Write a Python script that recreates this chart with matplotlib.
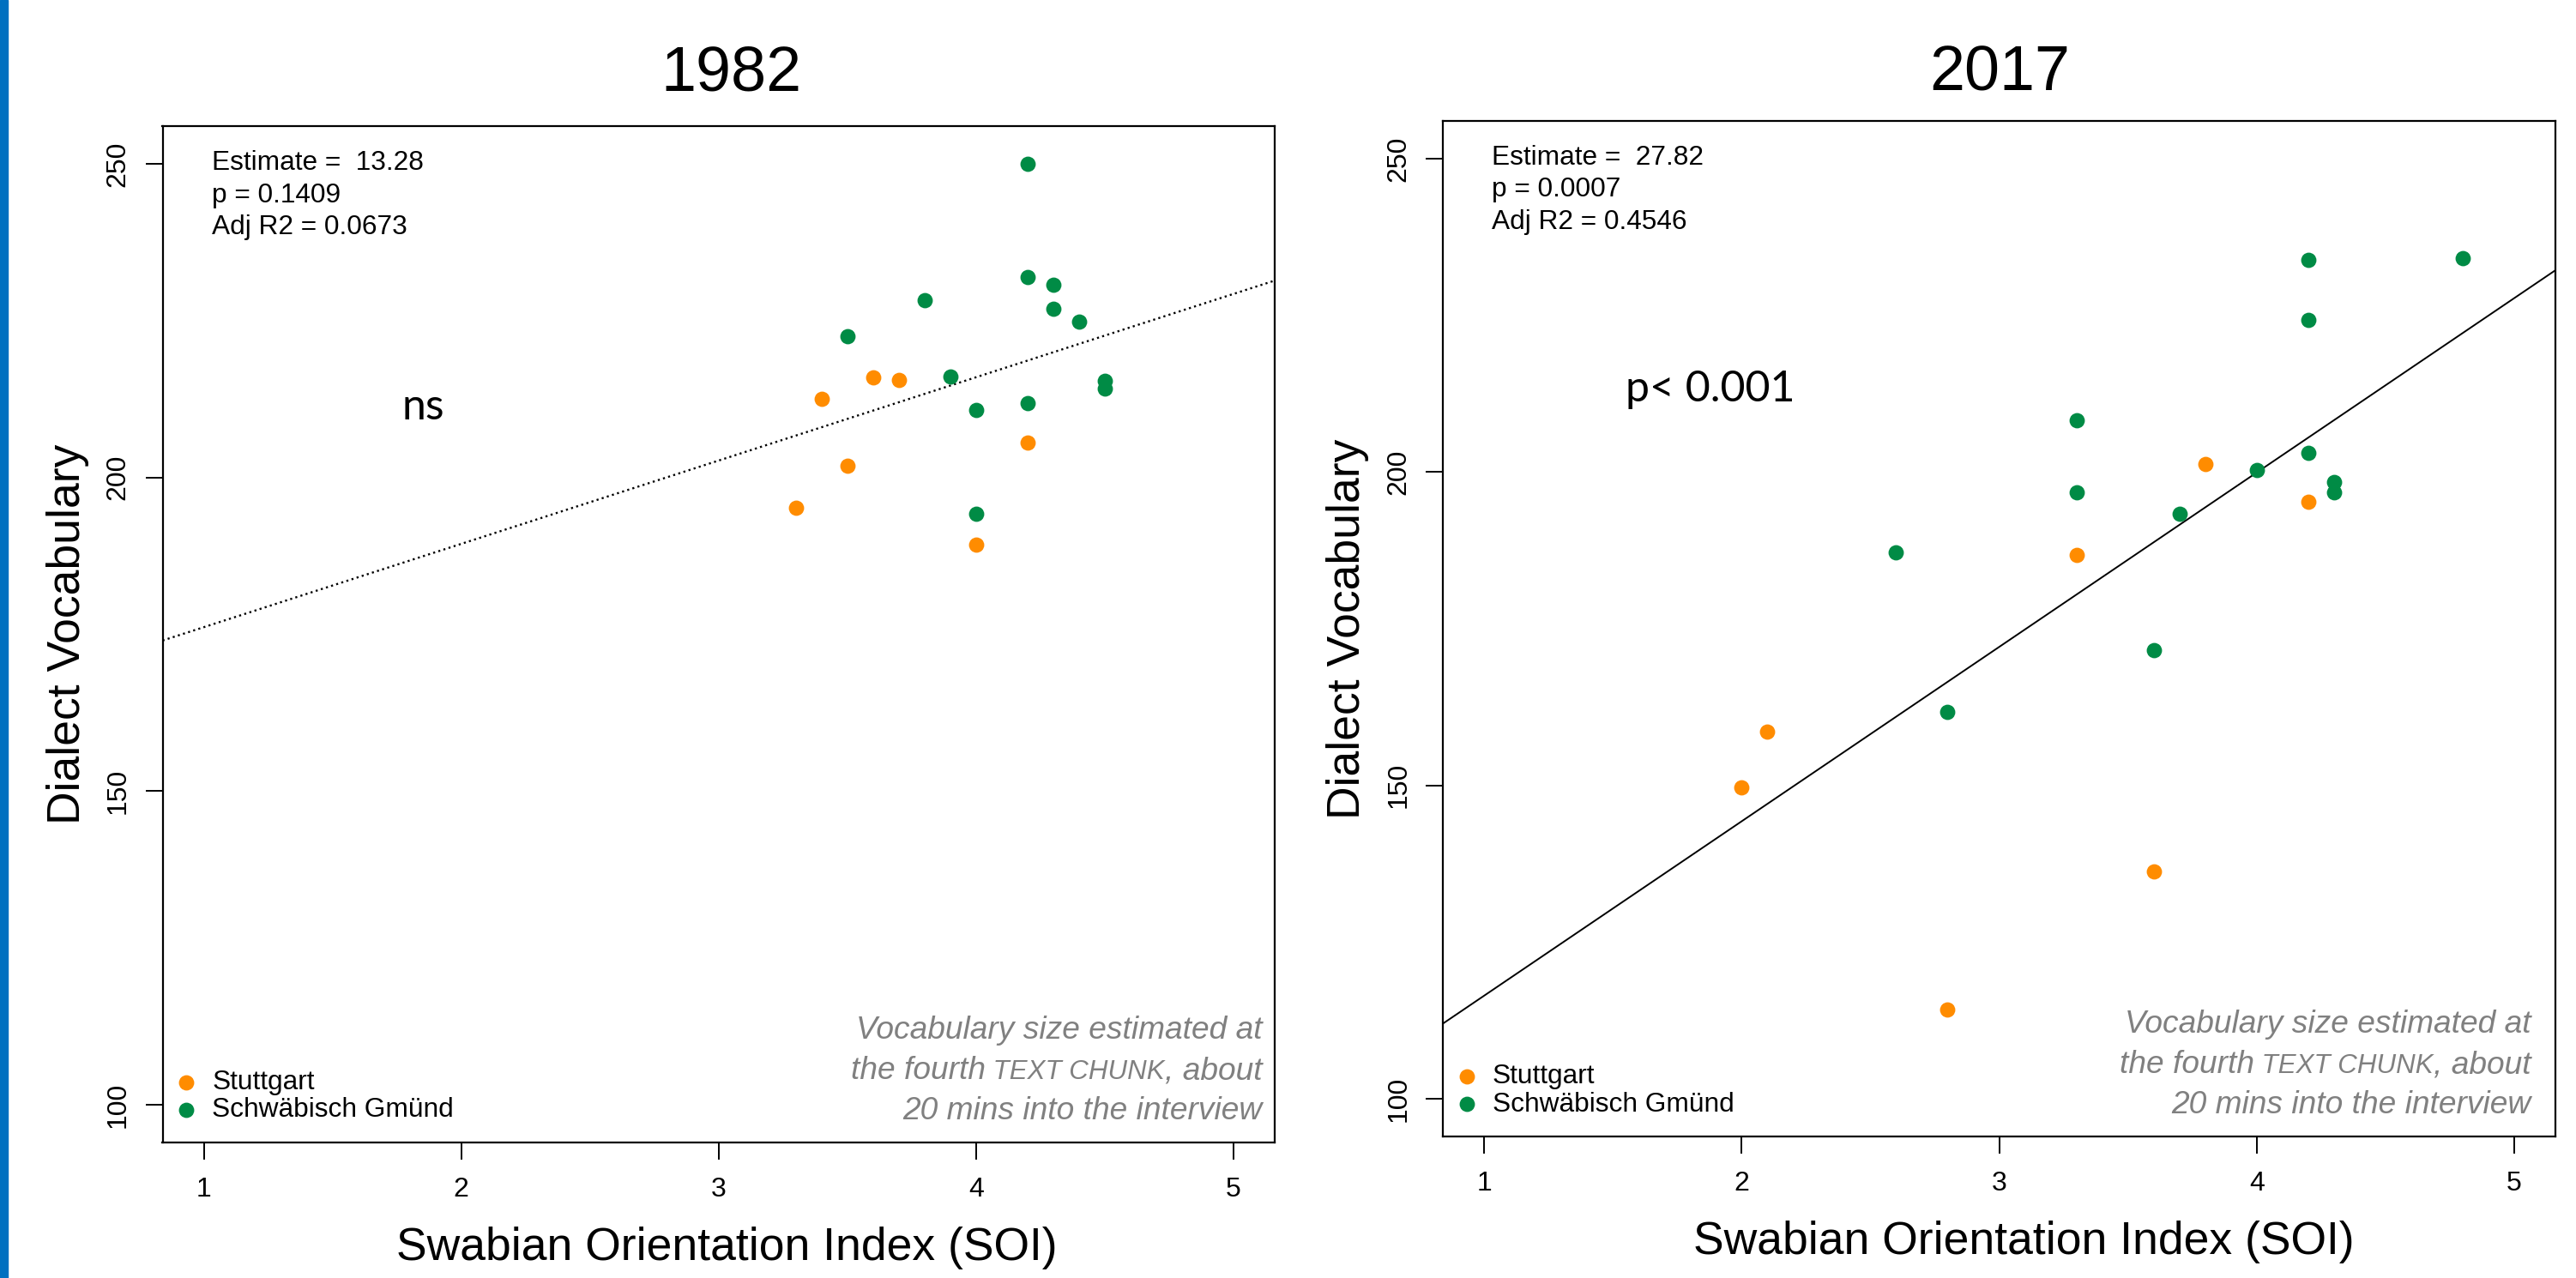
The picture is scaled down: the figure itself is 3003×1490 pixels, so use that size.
import matplotlib
matplotlib.use("Agg")
import matplotlib.pyplot as plt
from matplotlib.patches import Rectangle
from matplotlib.offsetbox import TextArea, HPacker, VPacker, AnnotationBbox

# values
soi_1982_stgt = [3.3, 3.4, 3.5, 3.6, 3.7, 4.0, 4.2]
voc_1982_stgt = [195.1, 212.5, 201.9, 216.0, 215.5, 189.3, 205.5]
soi_1982_gmd = [3.5, 3.8, 3.9, 4.0, 4.0, 4.2, 4.2, 4.2, 4.3, 4.3, 4.4, 4.5, 4.5]
voc_1982_gmd = [222.5, 228.3, 216.1, 210.8, 194.2, 250.0, 231.9, 211.9, 230.7, 226.9, 224.8, 215.4, 214.1]

soi_2017_stgt = [2.0, 2.1, 2.8, 3.3, 3.6, 3.8, 4.2]
voc_2017_stgt = [149.7, 158.6, 114.3, 186.8, 136.3, 201.3, 195.2]
soi_2017_gmd = [2.6, 2.8, 3.3, 3.3, 3.6, 3.7, 4.0, 4.2, 4.2, 4.2, 4.3, 4.3, 4.8]
voc_2017_gmd = [187.2, 161.7, 208.2, 196.8, 171.6, 193.3, 200.3, 233.9, 224.3, 203.1, 198.4, 196.7, 234.1]

# regression lines (intercept, slope)
fit_1982 = (162.85, 13.28)
fit_2017 = (88.63, 27.82)

stats_1982 = ["Estimate =  13.28", "p = 0.1409", "Adj R2 = 0.0673"]
stats_2017 = ["Estimate =  27.82", "p = 0.0007", "Adj R2 = 0.4546"]

x_ticks = [1, 2, 3, 4, 5]
y_ticks = [100, 150, 200, 250]
groups = ["Stuttgart", "Schwäbisch Gmünd"]
colors = ["#FF8C00", "#008B45"]

plt.rcParams["font.family"] = ["Liberation Sans", "DejaVu Sans"]

W, H = 3003, 1490
fig = plt.figure(figsize=(W / 100, H / 100), dpi=100)
fig.patches.append(Rectangle((0, 0), 9 / W, 1, transform=fig.transFigure,
                             color="#0070C0", zorder=0))


def add_ax(left, top, right, bottom):
    return fig.add_axes([left / W, 1 - bottom / H, (right - left) / W, (bottom - top) / H])


def draw_panel(ax, title, title_x, soi_s, voc_s, soi_g, voc_g, fit, ls, lw,
               stats, sig_text, sig_xy, xlabel_x, note_x):
    ax.scatter(soi_s, voc_s, s=165, color=colors[0], label=groups[0],
               linewidths=0, zorder=3)
    ax.scatter(soi_g, voc_g, s=165, color=colors[1], label=groups[1],
               linewidths=0, zorder=3)
    ax.axline((0, fit[0]), slope=fit[1], color="black", linestyle=ls, linewidth=lw)

    ax.set_xlim(0.84, 5.16)
    ax.set_ylim(94, 256)
    ax.set_xticks(x_ticks)
    ax.set_yticks(y_ticks)
    ax.tick_params(length=14.4, width=1.4, labelsize=23)
    ax.tick_params(axis="x", pad=14.4)
    ax.tick_params(axis="y", pad=12)
    plt.setp(ax.get_yticklabels(), rotation=90, va="center", ha="right")
    for sp in ax.spines.values():
        sp.set_linewidth(1.6)

    ax.set_xlabel("Swabian Orientation Index (SOI)", fontsize=38.5)
    ax.xaxis.set_label_coords(xlabel_x, -0.083)
    ax.set_ylabel("Dialect Vocabulary", fontsize=38.5)
    ax.yaxis.set_label_coords(-0.066, 0.5)

    fig.text(title_x / W, 1 - 106 / H, title, fontsize=53, ha="center", va="baseline")

    for i, line in enumerate(stats):
        ax.text(0.044, 0.957 - i * 0.0317, line, transform=ax.transAxes,
                fontsize=22.8, va="baseline")

    ax.text(sig_xy[0], sig_xy[1], sig_text, fontsize=36, family="Lato", va="baseline")

    ax.legend(loc="lower left", bbox_to_anchor=(0.014, 0.019), borderaxespad=0,
              borderpad=0, frameon=False, fontsize=22.8, handlelength=0.6,
              handletextpad=0.65, labelspacing=0.08, scatterpoints=1)

    tp = dict(color="#808080", style="italic", fontsize=26.7)
    tp_small = dict(color="#808080", style="italic", fontsize=22.5)
    line1 = TextArea("Vocabulary size estimated at", textprops=tp)
    line2 = HPacker(children=[TextArea("the fourth", textprops=tp),
                              TextArea(" TEXT CHUNK", textprops=tp_small),
                              TextArea(", about", textprops=tp)],
                    align="baseline", pad=0, sep=0)
    line3 = TextArea("20 mins into the interview", textprops=tp)
    note = VPacker(children=[line1, line2, line3], align="right", pad=0, sep=8.5)
    ab = AnnotationBbox(note, (note_x, 0.016), xycoords="axes fraction",
                        box_alignment=(1, 0), frameon=False, pad=0)
    ax.add_artist(ab)


ax1 = add_ax(189.5, 147, 1486, 1332)
ax2 = add_ax(1682, 141, 2979, 1325)

draw_panel(ax1, "1982", 852, soi_1982_stgt, voc_1982_stgt, soi_1982_gmd, voc_1982_gmd,
           fit_1982, ":", 1.7, stats_1982, "ns", (1.77, 209.2), 0.507, 0.989)
draw_panel(ax2, "2017", 2331, soi_2017_stgt, voc_2017_stgt, soi_2017_gmd, voc_2017_gmd,
           fit_2017, "-", 1.4, stats_2017, "p< 0.001", (1.55, 211.3), 0.522, 0.978)

fig.savefig("out.png", dpi=100, facecolor="white")
